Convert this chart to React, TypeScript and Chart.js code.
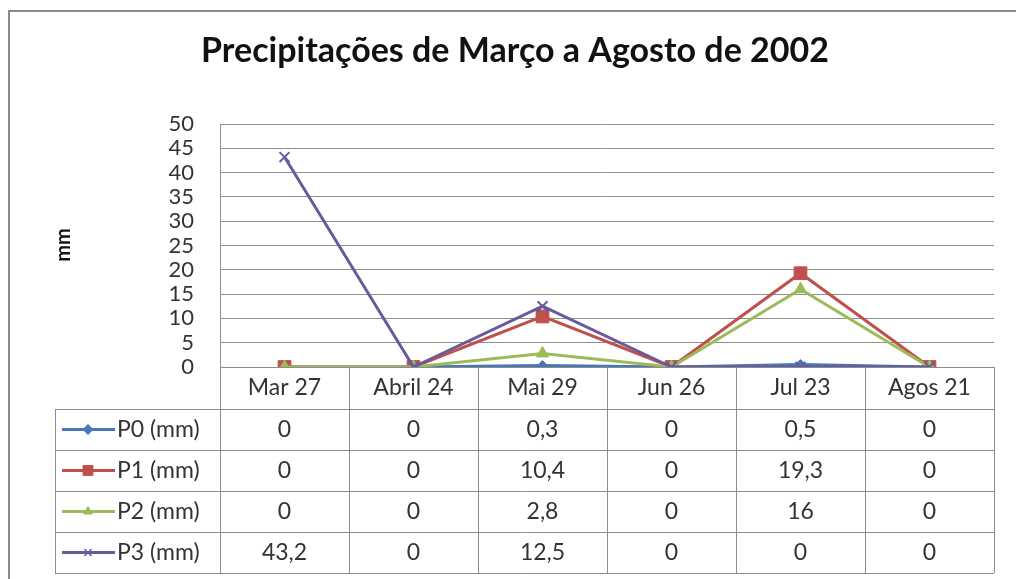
import React, { useEffect, useRef } from "react";
import { Chart, registerables } from "chart.js";
import { drawPoint } from "chart.js/helpers";

Chart.register(...registerables);

const TITLE = "Precipitações de Março a Agosto de 2002";
const Y_TITLE = "mm";
const categories = ["Mar 27", "Abril 24", "Mai 29", "Jun 26", "Jul 23", "Agos 21"];
const seriesNames = ["P0 (mm)", "P1 (mm)", "P2 (mm)", "P3 (mm)"];
const p0 = [0, 0, 0.3, 0, 0.5, 0];
const p1 = [0, 0, 10.4, 0, 19.3, 0];
const p2 = [0, 0, 2.8, 0, 16, 0];
const p3 = [43.2, 0, 12.5, 0, 0, 0];
const yMin = 0;
const yMax = 50;
const yStep = 5;

const colors = ["#4677b8", "#c0504d", "#9bbb59", "#6a5a9c"];
const pointStyles = ["rectRot", "rect", "triangle", "crossRot"];
const pointRadii = [5, 9, 7, 7];

const FONT = "Lato, 'Open Sans', sans-serif";

const fmt = (v: number) => String(v).replace(".", ",");

const tablePlugin = {
  id: "tablePlugin",
  afterDraw(chart: any) {
    const ctx = chart.ctx as CanvasRenderingContext2D;
    const x = chart.scales.x;
    const area = chart.chartArea;
    const n = categories.length;
    const colW = (area.right - area.left) / n;
    const legendLeft = 55;
    const headerTop = area.bottom;
    const rowH = 41;
    const headerBottom = headerTop + 42;
    const tableBottom = headerBottom + rowH * seriesNames.length;

    ctx.save();
    // outer frame
    ctx.strokeStyle = "#8a8a8a";
    ctx.lineWidth = 2;
    ctx.beginPath();
    ctx.moveTo(9, 579);
    ctx.lineTo(9, 11);
    ctx.lineTo(1016, 11);
    ctx.stroke();

    // title
    ctx.fillStyle = "#111";
    ctx.font = `bold 34px ${FONT}`;
    ctx.textAlign = "center";
    ctx.textBaseline = "alphabetic";
    ctx.fillText(TITLE, 515, 62, 630);

    // y title
    ctx.save();
    ctx.translate(64, 245);
    ctx.rotate(-Math.PI / 2);
    ctx.font = `bold 20px ${FONT}`;
    ctx.textBaseline = "middle";
    ctx.fillText(Y_TITLE, 0, 0);
    ctx.restore();

    // table lines
    ctx.strokeStyle = "#8c8c8c";
    ctx.lineWidth = 1;
    ctx.beginPath();
    ctx.moveTo(area.left, headerTop + 0.5);
    ctx.lineTo(area.right, headerTop + 0.5);
    for (let r = 0; r <= seriesNames.length; r++) {
      const yy = Math.round(headerBottom + r * rowH) + 0.5;
      ctx.moveTo(legendLeft, yy);
      ctx.lineTo(area.right, yy);
    }
    for (let c = 0; c <= n; c++) {
      const xx = Math.round(area.left + c * colW) + 0.5;
      ctx.moveTo(xx, headerTop);
      ctx.lineTo(xx, tableBottom);
    }
    ctx.moveTo(legendLeft + 0.5, headerBottom);
    ctx.lineTo(legendLeft + 0.5, tableBottom);
    ctx.stroke();

    // header labels
    ctx.fillStyle = "#333";
    ctx.font = `23px ${FONT}`;
    ctx.textAlign = "center";
    ctx.textBaseline = "middle";
    categories.forEach((c, i) => {
      ctx.fillText(c, x.getPixelForValue(i), headerTop + 21, colW - 8);
    });

    const data = [p0, p1, p2, p3];
    data.forEach((arr, r) => {
      const cy = headerBottom + r * rowH + rowH / 2;
      arr.forEach((v, i) => {
        ctx.fillStyle = "#333";
        ctx.textAlign = "center";
        ctx.fillText(fmt(v), x.getPixelForValue(i), cy);
      });
      // legend key
      ctx.strokeStyle = colors[r];
      ctx.lineWidth = 3;
      ctx.beginPath();
      ctx.moveTo(62, cy);
      ctx.lineTo(115, cy);
      ctx.stroke();
      ctx.fillStyle = colors[r];
      ctx.strokeStyle = colors[r];
      ctx.lineWidth = r === 3 ? 1.5 : 1;
      drawPoint(ctx, { pointStyle: pointStyles[r], radius: r === 1 ? 7 : 5, borderWidth: 1, rotation: 0 } as any, 88, cy);
      ctx.fillStyle = "#333";
      ctx.textAlign = "left";
      ctx.fillText(seriesNames[r], 117, cy, 94);
    });
    ctx.restore();
  },
};

export default function App() {
  const ref = useRef<HTMLCanvasElement>(null);
  useEffect(() => {
    if (!ref.current) return;
    const all = [p0, p1, p2, p3];
    const order = [3, 2, 1, 0];
    const chart = new Chart(ref.current, {
      type: "line",
      data: {
        labels: categories,
        datasets: all.map((d, i) => ({
          label: seriesNames[i],
          data: d,
          borderColor: colors[i],
          backgroundColor: colors[i],
          borderWidth: 3,
          pointStyle: pointStyles[i] as any,
          pointRadius: pointRadii[i],
          pointBorderWidth: i === 3 ? 2 : 1,
          pointBorderColor: colors[i],
          pointBackgroundColor: colors[i],
          tension: 0,
          order: order[i],
        })),
      },
      options: {
        animation: false,
        responsive: true,
        maintainAspectRatio: false,
        layout: { padding: { left: 0, top: 124, right: 22, bottom: 212 } },
        plugins: {
          legend: { display: false },
          title: { display: false },
          tooltip: { enabled: false },
        },
        scales: {
          x: { type: "category", display: false, offset: true },
          y: {
            min: yMin,
            max: yMax,
            afterFit: (s: any) => {
              s.width = 220;
            },
            ticks: {
              stepSize: yStep,
              autoSkip: false,
              maxTicksLimit: 20,
              padding: 26,
              color: "#333",
              font: { family: FONT, size: 22, lineHeight: 1 },
            },
            grid: { color: "#8f8f8f", lineWidth: 1, drawTicks: false },
            border: { display: true, color: "#8f8f8f" },
          },
        },
      },
      plugins: [tablePlugin],
    });
    return () => chart.destroy();
  }, []);
  return (
    <div style={{ position: "absolute", left: 0, top: 0, width: 1016, height: 579, background: "#fff" }}>
      <canvas ref={ref} />
    </div>
  );
}
